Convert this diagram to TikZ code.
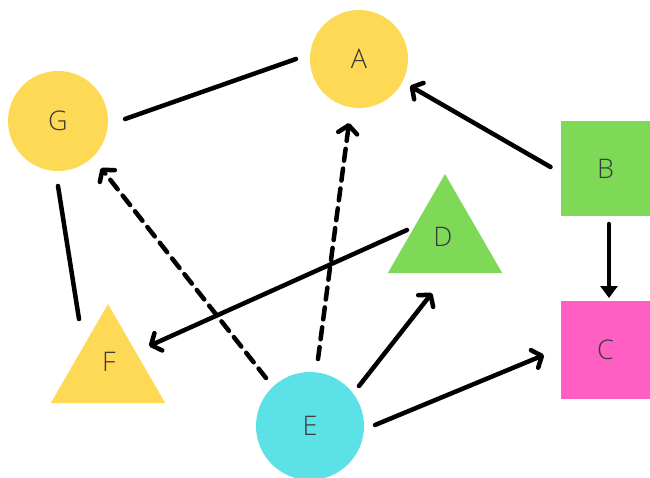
\documentclass[tikz,border=0pt]{standalone}
\usepackage{fontspec}
\setmainfont{Open Sans Light}
\usetikzlibrary{arrows.meta,shapes.geometric}
\definecolor{sun}{HTML}{FDD955}
\definecolor{leaf}{HTML}{7ED957}
\definecolor{rose}{HTML}{FF5FC2}
\definecolor{aqua}{HTML}{5CE1E6}
\definecolor{ink}{HTML}{3A3A3A}
\tikzset{
  lbl/.style={text=ink, font=\fontsize{27}{27}\selectfont, inner sep=0pt},
  roundnode/.style={lbl, circle, minimum size=#1},
  boxnode/.style={lbl, rectangle},
  trinode/.style={lbl, regular polygon, regular polygon sides=3, minimum size=132},
  link/.style={line width=4.5pt, line cap=round, line join=round},
  barb/.style={link, -{Straight Barb[length=8pt, width=19pt, line cap=round, line join=round]}},
  solidtip/.style={link, -{Triangle[length=12pt, width=17pt]}},
  dashlink/.style={barb, dash pattern=on 12pt off 8pt},
}
\begin{document}
\begin{tikzpicture}[x=1pt, y=-1pt]
\useasboundingbox (0,0) rectangle (650,478);
% nodes
\node[roundnode=98, fill=sun] (A) at (359,59) {A};
\node[roundnode=100, fill=sun] (G) at (58,121) {G};
\node[boxnode, fill=leaf, minimum width=89, minimum height=95] (B) at (605.5,168.5) {B};
\node[boxnode, fill=rose, minimum width=89, minimum height=98] (C) at (605.5,350) {C};
\node[trinode, fill=leaf] (D) at (445,240) {};
\node[lbl] at (443,237) {D};
\node[trinode, fill=sun] (F) at (108,370) {};
\node[lbl] at (109,362) {F};
\node[roundnode=108, fill=aqua] (E) at (310,426) {E};
% connectors
\draw[link] ([shift={(67,-2)}]G.center) -- ([shift={(-63,0)}]A.center);
\draw[link] ([shift={(0,65)}]G.center) -- ([shift={(-29,-51)}]F.center);
\draw[barb] ([shift={(-55,-1.5)}]B.center) -- ([shift={(51,27)}]A.center);
\draw[solidtip] ([shift={(3.5,55.5)}]B.center) -- ([shift={(3.5,-52)}]C.center);
\draw[dashlink] ([shift={(8,-67)}]E.center) -- ([shift={(-10,64)}]A.center);
\draw[dashlink] ([shift={(-44,-48)}]E.center) -- ([shift={(43,47)}]G.center);
\draw[barb] ([shift={(-38,-10)}]D.center) -- ([shift={(41,-24)}]F.center);
\draw[barb] ([shift={(49,-40)}]E.center) -- ([shift={(-13,53)}]D.center);
\draw[barb] ([shift={(65,-1)}]E.center) -- ([shift={(-61.5,5)}]C.center);
\end{tikzpicture}
\end{document}
